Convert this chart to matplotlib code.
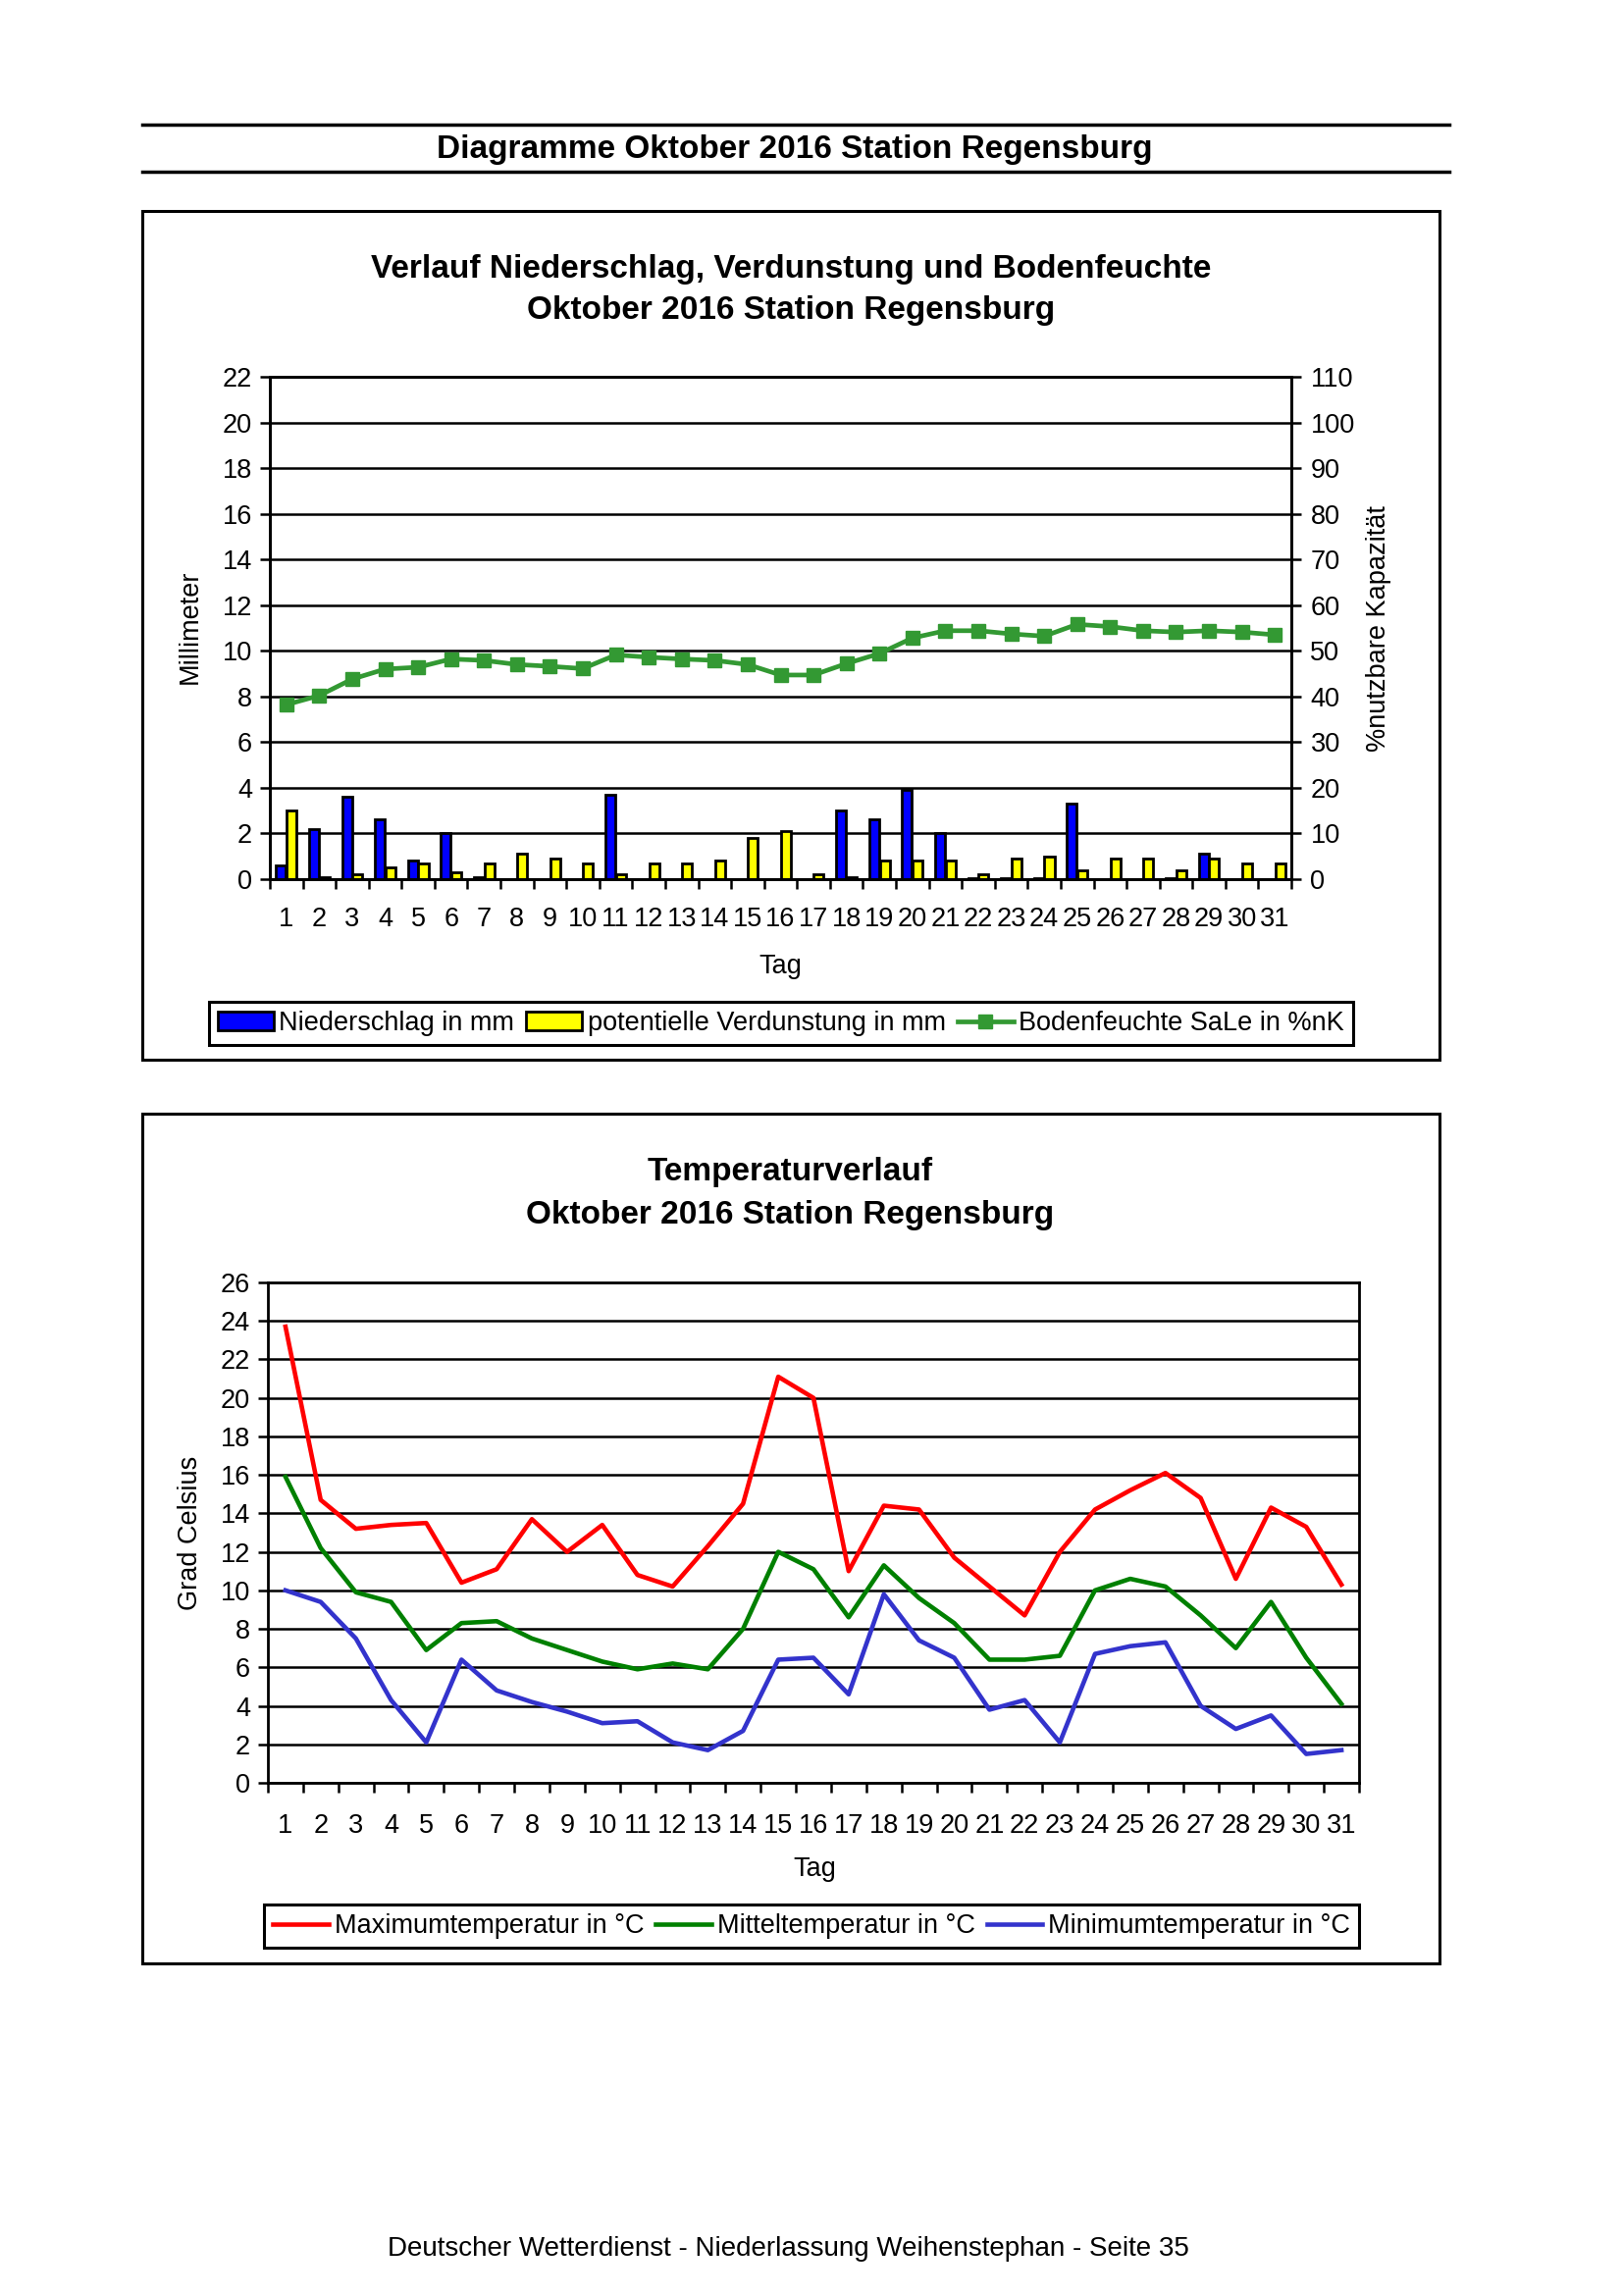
import matplotlib
matplotlib.use('Agg')
import matplotlib.pyplot as plt
from matplotlib.patches import Rectangle, Patch
from matplotlib.lines import Line2D
import numpy as np

plt.rcParams['font.family'] = ['Liberation Sans', 'DejaVu Sans']

# Tage im Oktober 2016
TAGE = list(range(1, 32))

# Niederschlag und potentielle Verdunstung in mm
NIEDERSCHLAG = [0.6, 2.2, 3.6, 2.6, 0.8, 2.0, 0.1, 0.0, 0.0, 0.0, 3.7, 0.0, 0.0, 0.0, 0.0, 0.0,
                0.0, 3.0, 2.6, 3.9, 2.0, 0.05, 0.05, 0.05, 3.3, 0.0, 0.0, 0.05, 1.1, 0.0, 0.0]
VERDUNSTUNG = [3.0, 0.1, 0.2, 0.5, 0.7, 0.3, 0.7, 1.1, 0.9, 0.7, 0.2, 0.7, 0.7, 0.8, 1.8, 2.1,
               0.2, 0.1, 0.8, 0.8, 0.8, 0.2, 0.9, 1.0, 0.4, 0.9, 0.9, 0.4, 0.9, 0.7, 0.7]
# Bodenfeuchte in %nK
BODENFEUCHTE = [38.2, 40.2, 43.8, 46.0, 46.4, 48.2, 47.9, 47.0, 46.6, 46.1, 49.1, 48.6, 48.2, 47.9,
                47.0, 44.7, 44.7, 47.2, 49.4, 52.8, 54.4, 54.4, 53.7, 53.2, 55.8, 55.3, 54.4, 54.1,
                54.4, 54.1, 53.5]

# Temperaturen in Grad Celsius
T_MAX = [23.7, 14.7, 13.2, 13.4, 13.5, 10.4, 11.1, 13.7, 12.0, 13.4, 10.8, 10.2, 12.3, 14.5, 21.1,
         20.0, 11.0, 14.4, 14.2, 11.7, 10.2, 8.7, 12.0, 14.2, 15.2, 16.1, 14.8, 10.6, 14.3, 13.3, 10.3]
T_MITTEL = [15.9, 12.2, 9.9, 9.4, 6.9, 8.3, 8.4, 7.5, 6.9, 6.3, 5.9, 6.2, 5.9, 8.0, 12.0, 11.1,
            8.6, 11.3, 9.6, 8.3, 6.4, 6.4, 6.6, 10.0, 10.6, 10.2, 8.7, 7.0, 9.4, 6.5, 4.1]
T_MIN = [10.0, 9.4, 7.5, 4.3, 2.1, 6.4, 4.8, 4.2, 3.7, 3.1, 3.2, 2.1, 1.7, 2.7, 6.4, 6.5, 4.6,
         9.8, 7.4, 6.5, 3.8, 4.3, 2.1, 6.7, 7.1, 7.3, 4.0, 2.8, 3.5, 1.5, 1.7]

W, H = 1653, 2340
FS = 19.5
TFS = 24

fig = plt.figure(figsize=(W / 100, H / 100), dpi=100)


# Pixel -> Figurkoordinaten
def fx(px):
    return px / W


def fy(py):
    return 1 - py / H


def axes_px(left, top, right, bottom):
    return fig.add_axes([fx(left), fy(bottom), (right - left) / W, (bottom - top) / H])


def hline(x0, x1, y, lw=2.5):
    fig.add_artist(Line2D([fx(x0), fx(x1)], [fy(y), fy(y)], lw=lw, color='black'))


def box(x0, y0, x1, y1):
    fig.add_artist(Rectangle((fx(x0), fy(y1)), (x1 - x0) / W, (y1 - y0) / H, fill=False,
                             lw=2.2, edgecolor='black', transform=fig.transFigure))


def style_days(ax, pad):
    ax.set_xlim(0.5, 31.5)
    ax.set_xticks(TAGE)
    ax.set_xticklabels([str(t) for t in TAGE])
    ax.set_xticks(np.arange(0.5, 32, 1), minor=True)
    ax.tick_params(axis='x', which='major', length=0, pad=pad, labelsize=FS)
    ax.tick_params(axis='x', which='minor', length=7, width=1.8, direction='out')
    ax.tick_params(axis='y', which='major', length=7, width=1.8, direction='out', pad=6, labelsize=FS)
    ax.grid(axis='y', color='black', lw=1.8)
    for s in ax.spines.values():
        s.set_linewidth(2)


# Kopfzeile
hline(145, 1477, 127)
hline(145, 1477, 175)
fig.text(fx(810), fy(152), 'Diagramme Oktober 2016 Station Regensburg', ha='center', va='center',
         fontsize=TFS, fontweight='bold')

# ---------- Diagramm 1 ----------
box(145, 215, 1467, 1080)
fig.text(fx(806), fy(274), 'Verlauf Niederschlag, Verdunstung und Bodenfeuchte', ha='center',
         va='center', fontsize=TFS, fontweight='bold')
fig.text(fx(806), fy(317), 'Oktober 2016 Station Regensburg', ha='center', va='center',
         fontsize=TFS, fontweight='bold')

ax1 = axes_px(275, 384, 1316, 896)
x = np.array(TAGE)
ax1.bar(x - 0.16, NIEDERSCHLAG, width=0.3, color='#0000ff', edgecolor='black', linewidth=2, zorder=3)
ax1.bar(x + 0.16, VERDUNSTUNG, width=0.3, color='#ffff00', edgecolor='black', linewidth=2, zorder=3)
ax1.set_ylim(0, 22)
ax1.set_yticks(range(0, 23, 2))
ax1.set_axisbelow(True)
style_days(ax1, 20)

ax1r = ax1.twinx()
ax1r.plot(TAGE, BODENFEUCHTE, color='#339933', lw=3.4, marker='s', ms=9.5)
ax1r.set_ylim(0, 110)
ax1r.set_yticks(range(0, 111, 10))
ax1r.tick_params(axis='y', length=7, width=1.8, direction='out', pad=7, labelsize=FS)
for s in ax1r.spines.values():
    s.set_linewidth(2)

fig.text(fx(194), fy(639), 'Millimeter', rotation=90, ha='center', va='center', fontsize=FS)
fig.text(fx(1405), fy(641), '%nutzbare Kapazität', rotation=90, ha='center', va='center', fontsize=FS)
fig.text(fx(795), fy(985), 'Tag', ha='center', va='center', fontsize=FS)

h1 = [Patch(facecolor='#0000ff', edgecolor='black', lw=2),
      Patch(facecolor='#ffff00', edgecolor='black', lw=2),
      Line2D([], [], color='#339933', lw=3.4, marker='s', ms=9.5)]
leg1 = ax1.legend(h1, ['Niederschlag in mm', 'potentielle Verdunstung in mm', 'Bodenfeuchte SaLe in %nK'],
                  loc='center', bbox_to_anchor=(fx(796), fy(1043)), bbox_transform=fig.transFigure,
                  ncol=3, fontsize=FS, frameon=True, fancybox=False, edgecolor='black', framealpha=1,
                  handlelength=2.1, handletextpad=0.2, columnspacing=0.45, borderpad=0.35,
                  borderaxespad=0)
leg1.get_frame().set_linewidth(2.2)

# ---------- Diagramm 2 ----------
box(145, 1135, 1467, 2001)
fig.text(fx(805), fy(1194), 'Temperaturverlauf', ha='center', va='center', fontsize=TFS, fontweight='bold')
fig.text(fx(805), fy(1238), 'Oktober 2016 Station Regensburg', ha='center', va='center',
         fontsize=TFS, fontweight='bold')

ax2 = axes_px(273, 1307, 1385, 1817)
ax2.plot(TAGE, T_MAX, color='#ff0000', lw=3.3, label='Maximumtemperatur in °C')
ax2.plot(TAGE, T_MITTEL, color='#008000', lw=3.3, label='Mitteltemperatur in °C')
ax2.plot(TAGE, T_MIN, color='#3333cc', lw=3.3, label='Minimumtemperatur in °C')
ax2.set_ylim(0, 26)
ax2.set_yticks(range(0, 27, 2))
style_days(ax2, 22)

fig.text(fx(194), fy(1562), 'Grad Celsius', rotation=90, ha='center', va='center', fontsize=FS)
fig.text(fx(830), fy(1905), 'Tag', ha='center', va='center', fontsize=FS)

leg2 = ax2.legend(loc='center', bbox_to_anchor=(fx(827), fy(1963)), bbox_transform=fig.transFigure,
                  ncol=3, fontsize=FS, frameon=True, fancybox=False, edgecolor='black', framealpha=1,
                  handlelength=2.1, handletextpad=0.2, columnspacing=0.45, borderpad=0.35,
                  borderaxespad=0)
leg2.get_frame().set_linewidth(2.2)

# Fusszeile
fig.text(fx(803), fy(2292), 'Deutscher Wetterdienst - Niederlassung Weihenstephan - Seite 35',
         ha='center', va='center', fontsize=20)

fig.savefig('out.png', dpi=100)
